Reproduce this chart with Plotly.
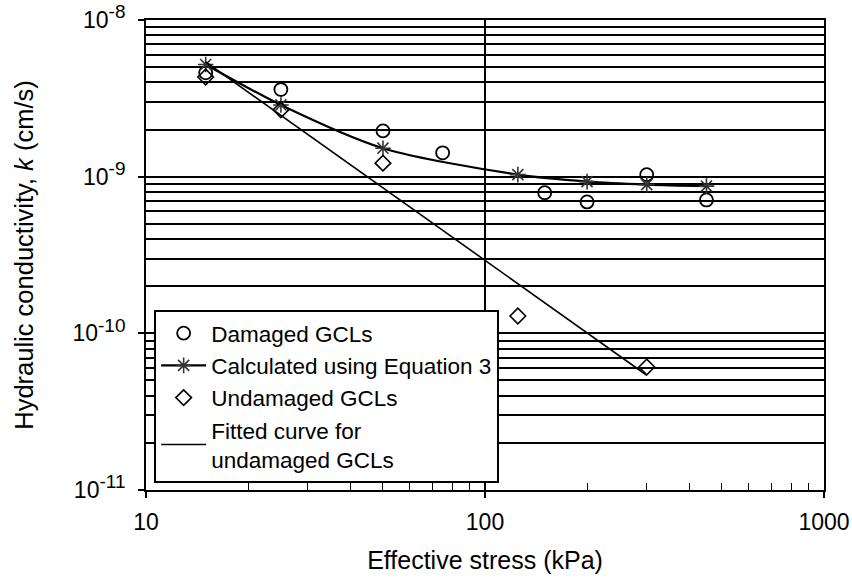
import plotly.graph_objects as go

# Data
damaged_x = [15, 25, 50, 75, 150, 200, 300, 450]
damaged_k = [4.6e-9, 3.6e-9, 1.96e-9, 1.42e-9, 7.9e-10, 6.9e-10, 1.03e-9, 7.1e-10]

calc_x = [15, 25, 50, 125, 200, 300, 450]
calc_k = [5.2e-9, 2.87e-9, 1.52e-9, 1.03e-9, 9.3e-10, 8.9e-10, 8.7e-10]

undamaged_x = [15, 25, 50, 125, 300]
undamaged_k = [4.33e-9, 2.67e-9, 1.22e-9, 1.29e-10, 6.1e-11]

fit_x = [15, 300]
fit_k = [5.4e-9, 5.4e-11]

x_ticks = [10, 100, 1000]
x_ticktext = ["10", "100", "1000"]
y_ticks = [1e-11, 1e-10, 1e-9, 1e-8]
y_exponents = ["-11", "-10", "-9", "-8"]
y_ticktext = ["10<sup><span style='font-size:19px'>%s</span></sup>" % e for e in y_exponents]

y_minor = [m * 10.0 ** e for e in (-11, -10, -9) for m in range(2, 10)]
x_minor = [m * 10.0 ** e for e in (1, 2) for m in range(2, 10)]

font = "Liberation Sans, Arial, sans-serif"

fig = go.Figure()
fig.add_trace(go.Scatter(
    x=damaged_x, y=damaged_k, mode="markers", name="Damaged GCLs",
    legendgroup="a",
    marker=dict(symbol="circle-open", size=13, color="black", line=dict(width=1.8)),
))
fig.add_trace(go.Scatter(
    x=calc_x, y=calc_k, mode="lines+markers", name="Calculated using Equation 3",
    legendgroup="b",
    line=dict(color="black", width=2.2, shape="spline", smoothing=0.8),
    marker=dict(symbol="asterisk-open", size=13, color="#333333", line=dict(width=1.6, color="#333333")),
))
fig.add_trace(go.Scatter(
    x=undamaged_x, y=undamaged_k, mode="markers", name="Undamaged GCLs",
    legendgroup="c",
    marker=dict(symbol="diamond-open", size=12, color="black", line=dict(width=1.6)),
))
fig.add_trace(go.Scatter(
    x=fit_x, y=fit_k, mode="lines", name="Fitted curve for<br>undamaged GCLs",
    legendgroup="d",
    line=dict(color="black", width=1.6),
))

fig.update_layout(
    width=852, height=578,
    margin=dict(l=146, r=28, t=20, b=88),
    paper_bgcolor="white", plot_bgcolor="white",
    font=dict(family=font, size=22, color="black"),
    showlegend=True,
    legend=dict(
        x=0.012, y=0.383, xanchor="left", yanchor="top",
        bgcolor="white", bordercolor="black", borderwidth=2,
        font=dict(family=font, size=22.5, color="black"),
        traceorder="grouped", tracegroupgap=0,
        itemwidth=45,
    ),
    xaxis=dict(
        type="log", range=[1, 3], automargin=False,
        tickmode="array", tickvals=x_ticks, ticktext=x_ticktext,
        ticks="outside", ticklen=6, tickwidth=1.6, tickcolor="black",
        ticklabelstandoff=4, ticklabeloverflow="allow",
        showline=True, linecolor="black", linewidth=1.8, mirror=True,
        showgrid=True, gridcolor="black", gridwidth=1.6,
        zeroline=False,
        title=dict(text="Effective stress (kPa)", font=dict(size=25), standoff=18),
        minor=dict(tickmode="array", tickvals=x_minor, ticks="inside", ticklen=7,
                   tickwidth=1.3, tickcolor="black", showgrid=False),
        tickfont=dict(size=23),
    ),
    yaxis=dict(
        type="log", range=[-11, -8], automargin=False,
        tickmode="array", tickvals=y_ticks, ticktext=y_ticktext,
        ticks="outside", ticklen=6, tickwidth=1.6, tickcolor="black",
        ticklabelstandoff=8, ticklabeloverflow="allow",
        showline=True, linecolor="black", linewidth=1.8, mirror=True,
        showgrid=True, gridcolor="black", gridwidth=1.6,
        zeroline=False,
        title=dict(text="Hydraulic conductivity, <i>k</i> (cm/s)", font=dict(size=25.5), standoff=32),
        minor=dict(tickmode="array", tickvals=y_minor, ticks="inside", ticklen=6,
                   tickwidth=1.3, tickcolor="black", showgrid=True,
                   gridcolor="black", gridwidth=1.5),
        tickfont=dict(size=23),
    ),
)

fig.write_html(
    "out.html",
    config={"displayModeBar": False},
    post_script="document.body.style.margin='0';document.body.style.overflow='hidden';",
)
